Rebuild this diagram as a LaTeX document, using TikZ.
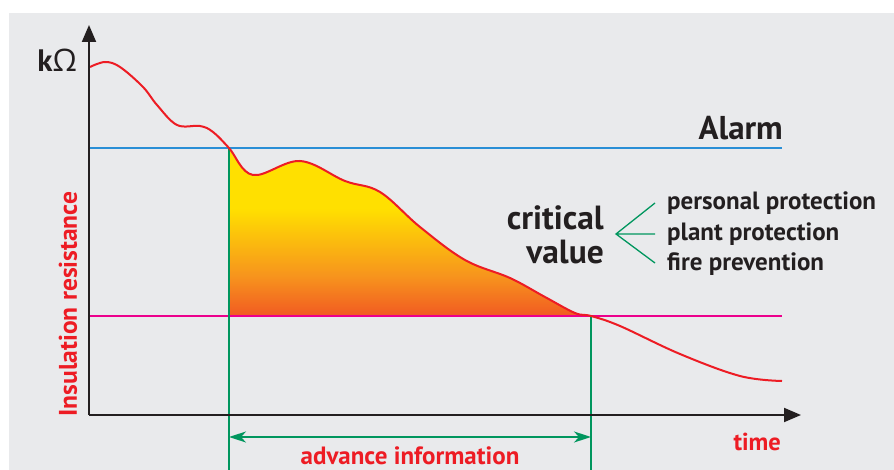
\documentclass[tikz,border=0pt]{standalone}
\usepackage{fontspec}
\setmainfont{PT Sans}
\newfontfamily\omegafont{Open Sans}
\usetikzlibrary{arrows.meta}
\definecolor{bg}{HTML}{E9EAEC}
\definecolor{axisc}{HTML}{231F20}
\definecolor{curvec}{HTML}{ED1C24}
\definecolor{alarmc}{HTML}{2A8FD6}
\definecolor{critc}{HTML}{EC008C}
\definecolor{greenc}{HTML}{00965E}
\definecolor{fyellow}{HTML}{FFE000}
\definecolor{forange}{HTML}{F7941D}
\definecolor{fred}{HTML}{F15A22}
\pgfdeclareverticalshading{fireshade}{100bp}{color(0bp)=(fred); color(25bp)=(fred); color(37bp)=(forange); color(57bp)=(fyellow); color(100bp)=(fyellow)}
\begin{document}
\begin{tikzpicture}[x=1pt,y=-1pt,
  axisline/.style={draw=axisc,line width=2pt,-{Triangle[length=17pt,width=14pt]}},
  hline/.style={line width=1.8pt},
  greenline/.style={draw=greenc,line width=1.8pt},
  dimarrow/.style={draw=greenc,line width=1.8pt,{Stealth[length=17pt,width=11pt,inset=5pt]}-{Stealth[length=17pt,width=11pt,inset=5pt]}},
  blacktext/.style={text=axisc,font=\bfseries,inner sep=0pt},
  redtext/.style={text=curvec,font=\bfseries,inner sep=0pt},
  curveline/.style={draw=curvec,line width=2pt}]
\useasboundingbox (0,0) rectangle (894,470);
\fill[white] (0,0) rectangle (894,470);
\fill[bg] (9,13) rectangle (894,470);
% coordinates
\coordinate (O) at (89,415);
\coordinate (ytip) at (89,25);
\coordinate (xtip) at (801,415);
\coordinate (alarmL) at (89,148);
\coordinate (alarmR) at (782,148);
\coordinate (critL) at (89,316);
\coordinate (critR) at (782,316);
\coordinate (t1) at (229,148);
\coordinate (t1b) at (229,471);
\coordinate (t2) at (591,316);
\coordinate (t2b) at (591,471);
\coordinate (d1) at (229,437);
\coordinate (d2) at (591,437);
\def\partB{(229,148) (253,175) (300,161) (345,181) (380,192) (420,227) (465,260) (510,278) (545,297) (575,313) (591,316)}
% fill
\shade[shading=fireshade] plot[smooth,tension=0.6] coordinates {\partB} -- (229,316) -- cycle;
% lines
\draw[hline,draw=alarmc] (alarmL) -- (alarmR);
\draw[hline,draw=critc] (critL) -- (critR);
\draw[greenline] (t1) -- (t1b);
\draw[greenline] (t2) -- (t2b);
\draw[dimarrow] (d1) -- (d2);
% curve
\draw[curveline] plot[smooth,tension=0.6] coordinates {(90,67) (105,62) (120,67) (143,87) (157,105) (177,125) (200,126) (213,132) \partB (620,326) (680,354) (740,376) (782,381)};
% axes
\draw[axisline] (O) -- (ytip);
\draw[axisline] (O) -- (xtip);
% texts
\node[blacktext,anchor=base east,font=\fontsize{31}{33}\selectfont\bfseries] (unit) at (77,72) {k\omegafont\mdseries Ω};
\node[blacktext,anchor=base east,font=\fontsize{33}{35}\selectfont\bfseries] (alarm) at (783,140) {Alarm};
\node[redtext,rotate=90,font=\fontsize{25.5}{27}\selectfont\bfseries] (ylabel) at (68,304) {Insulation resistance};
\node[redtext,anchor=base east,font=\fontsize{24.5}{26}\selectfont\bfseries] (time) at (781,450) {time};
\node[redtext,anchor=base,font=\fontsize{25}{27}\selectfont\bfseries] (adv) at (410,464) {advance information};
\node[blacktext,anchor=base east,font=\fontsize{33.5}{35}\selectfont\bfseries] (crit1) at (604,230) {critical};
\node[blacktext,anchor=base east,font=\fontsize{33.5}{35}\selectfont\bfseries] (crit2) at (604,264) {value};
\coordinate (fan) at (616,234);
\coordinate (f1) at (655,203);
\coordinate (f2) at (655,234);
\coordinate (f3) at (655,263);
\draw[greenc,line width=1.3pt] (f1) -- (fan) -- (f3) (fan) -- (f2);
\node[blacktext,anchor=base west,font=\fontsize{25}{27}\selectfont\bfseries] (i1) at (667,210) {personal protection};
\node[blacktext,anchor=base west,font=\fontsize{25}{27}\selectfont\bfseries] (i2) at (667,241) {plant protection};
\node[blacktext,anchor=base west,font=\fontsize{25}{27}\selectfont\bfseries] (i3) at (667,271) {fire prevention};
\end{tikzpicture}
\end{document}
